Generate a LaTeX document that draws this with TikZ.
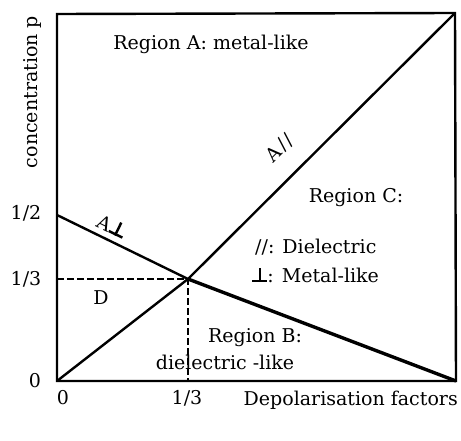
\documentclass[tikz,border=0pt]{standalone}
\usepackage{fontspec}
\setmainfont{DejaVu Serif}
\usetikzlibrary{positioning, calc}
\newcommand{\tackup}{\makebox[0.8em][c]{\rule{0.8em}{0.13em}\llap{\makebox[0.8em][c]{\rule{0.13em}{0.75em}}}}}
\tikzset{
  frame/.style={line width=2.4pt, black},
  curve/.style={line width=2.4pt, black},
  guide/.style={line width=1.8pt, black, dash pattern=on 7pt off 3pt},
  lbl/.style={font=\fontsize{19}{22}\selectfont, inner sep=0pt, align=center},
  tick/.style={font=\fontsize{19}{22}\selectfont, inner sep=0pt}
}
\begin{document}
\begin{tikzpicture}[x=1pt, y=-1pt]
  \useasboundingbox (0,0) rectangle (461,441);
  % frame corners
  \coordinate (o) at (57,381);
  \coordinate (tl) at (57,14);
  \coordinate (tr) at (455,13);
  \coordinate (br) at (456,381);
  % special points
  \coordinate (half) at (57,215);
  \coordinate (cross) at (188,279);
  \coordinate (thirdy) at (57,279);
  \coordinate (thirdx) at (188,381);
  \draw[frame] (tl) -- (tr) -- (br) -- (o) -- cycle;
  \draw[curve] (o) -- (cross) -- (tr);
  \draw[curve] (half) -- (cross);
  \draw[curve, line width=3.4pt] (cross) -- (br);
  \draw[guide] (thirdy) -- (cross) -- (thirdx);
  % axis labels
  \node[tick] (y0) at (35,381) {0};
  \node[tick] (y3) at (26,279) {1/3};
  \node[tick] (y2) at (26,213) {1/2};
  \node[tick] (x0) at (63,398) {0};
  \node[tick] (x3) at (187,398) {1/3};
  \node[lbl, anchor=east] (xlab) at (458,400) {Depolarisation factors};
  \node[lbl, rotate=90] (ylab) at (32,92) {concentration p};
  % regions
  \node[lbl] (ra) at (211,44) {Region A: metal-like};
  \node[lbl] (rc) at (356,198) {Region C:};
  \node[lbl, anchor=west] (rcd) at (255,247) {//: Dielectric};
  \node[lbl, anchor=west] (rcm) at (252,275) {\tackup: Metal-like};
  \node[lbl] (rb) at (255,338) {Region B:};
  \node[lbl] (rbd) at (225,362) {dielectric -like};
  \node[lbl] (rd) at (101,298) {D};
  \node[lbl, rotate=45] (apar) at (280,148) {A\kern2pt/\kern2pt/};
  \node[lbl, rotate=-26] (aperp) at (112,226) {A\tackup};
\end{tikzpicture}
\end{document}
